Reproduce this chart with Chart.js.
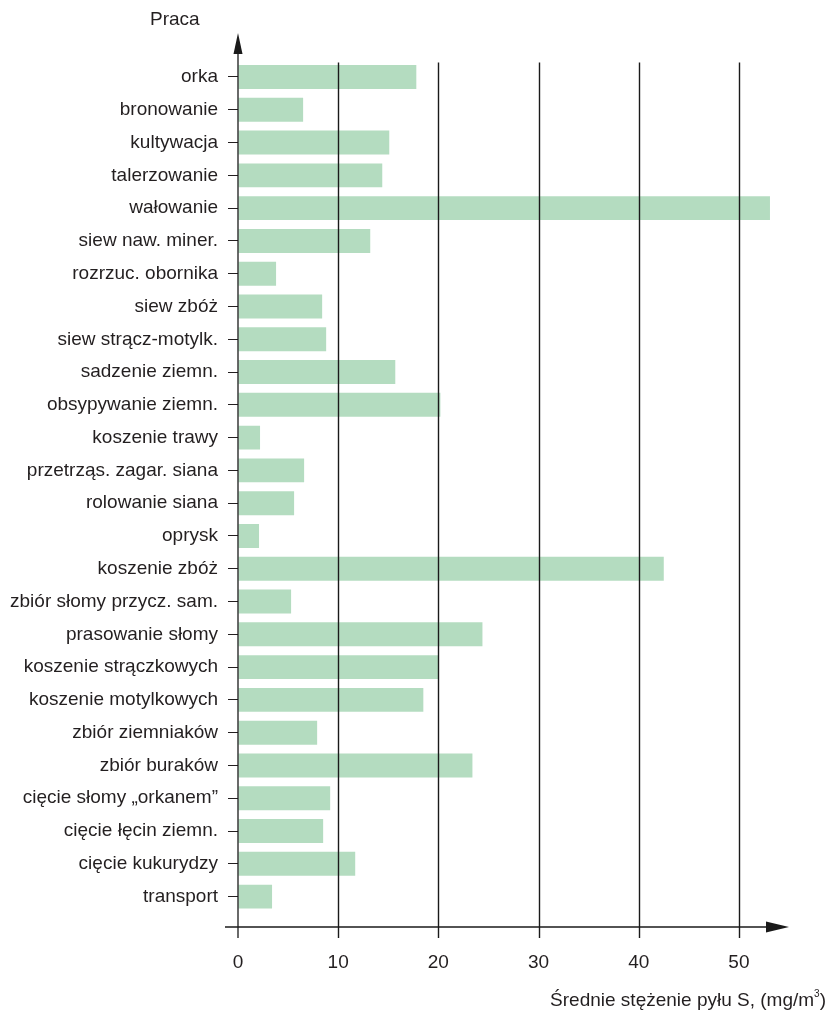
<!DOCTYPE html>
<html>
<head>
<meta charset="utf-8">
<script src="https://cdn.jsdelivr.net/npm/chart.js@4.4.0/dist/chart.umd.min.js"></script>
<style>
  body { margin: 0; background: #fff; }
  #wrap { width: 829px; height: 1013px; position: relative; }
</style>
</head>
<body>
<div id="wrap"><canvas id="chart"></canvas></div>
<script>
// kategorie (prace polowe) i średnie stężenie pyłu, mg/m3
const works = [
    'orka', 'bronowanie', 'kultywacja', 'talerzowanie', 'wałowanie',
    'siew naw. miner.', 'rozrzuc. obornika', 'siew zbóż', 'siew strącz-motylk.',
    'sadzenie ziemn.', 'obsypywanie ziemn.', 'koszenie trawy',
    'przetrząs. zagar. siana', 'rolowanie siana', 'oprysk', 'koszenie zbóż',
    'zbiór słomy przycz. sam.', 'prasowanie słomy', 'koszenie strączkowych',
    'koszenie motylkowych', 'zbiór ziemniaków', 'zbiór buraków',
    'cięcie słomy „orkanem”', 'cięcie łęcin ziemn.', 'cięcie kukurydzy', 'transport'
];
const dust = [
    17.8, 6.5, 15.1, 14.4, 53.1,
    13.2, 3.8, 8.4, 8.8,
    15.7, 20.2, 2.2,
    6.6, 5.6, 2.1, 42.5,
    5.3, 24.4, 20.0,
    18.5, 7.9, 23.4,
    9.2, 8.5, 11.7, 3.4
];
const xTicks = [0, 10, 20, 30, 40, 50];
const yTitle = 'Praca';
const xTitle = 'Średnie stężenie pyłu S, (mg/m';

const ink = '#231f20';
const barColor = '#b4dcc0';
const font = '"Liberation Sans", Arial, sans-serif';

// osie ze strzałkami, linie siatki na słupkach i opisy
const axesPlugin = {
    id: 'axes',
    afterDatasetsDraw(chart) {
        const ctx = chart.ctx;
        const area = chart.chartArea;
        const x = chart.scales.x;
        const x0 = x.getPixelForValue(0);
        const axisY = area.bottom + 14;

        ctx.save();
        ctx.strokeStyle = '#1a1a1a';
        ctx.fillStyle = '#1a1a1a';

        // pionowe linie siatki razem z kreskami podziałki
        ctx.lineWidth = 1.4;
        xTicks.slice(1).forEach(v => {
            const px = Math.round(x.getPixelForValue(v)) + 0.5;
            ctx.beginPath();
            ctx.moveTo(px, area.top + 2);
            ctx.lineTo(px, area.bottom + 25);
            ctx.stroke();
        });

        // oś Y
        ctx.lineWidth = 1.3;
        ctx.beginPath();
        ctx.moveTo(x0, 50);
        ctx.lineTo(x0, area.bottom + 25);
        ctx.stroke();
        ctx.beginPath();
        ctx.moveTo(x0, 33);
        ctx.lineTo(x0 - 4.5, 54);
        ctx.lineTo(x0 + 4.5, 54);
        ctx.closePath();
        ctx.fill();

        // oś X
        ctx.beginPath();
        ctx.moveTo(x0 - 13, axisY);
        ctx.lineTo(area.right - 20, axisY);
        ctx.stroke();
        ctx.beginPath();
        ctx.moveTo(area.right, axisY);
        ctx.lineTo(area.right - 23, axisY - 5.5);
        ctx.lineTo(area.right - 23, axisY + 5.5);
        ctx.closePath();
        ctx.fill();

        // tytuły osi
        ctx.fillStyle = ink;
        ctx.textBaseline = 'middle';
        ctx.textAlign = 'left';
        ctx.font = '19px ' + font;
        ctx.fillText(yTitle, 150, 20);

        const right = 826;
        const wClose = ctx.measureText(')').width;
        ctx.textAlign = 'right';
        ctx.fillText(')', right, 1001);
        ctx.font = '10px ' + font;
        const w3 = ctx.measureText('3').width;
        ctx.fillText('3', right - wClose, 994);
        ctx.font = '19px ' + font;
        ctx.fillText(xTitle, right - wClose - w3, 1001);
        ctx.restore();
    }
};

new Chart(document.getElementById('chart'), {
    type: 'bar',
    data: {
        labels: works,
        datasets: [{
            data: dust,
            backgroundColor: barColor,
            borderWidth: 0,
            categoryPercentage: 1,
            barPercentage: 0.73
        }]
    },
    options: {
        indexAxis: 'y',
        responsive: true,
        maintainAspectRatio: false,
        animation: false,
        layout: { padding: { top: 60.6, right: 40, bottom: 0, left: 0 } },
        plugins: {
            legend: { display: false },
            tooltip: { enabled: false }
        },
        scales: {
            x: {
                min: 0,
                max: 55,
                afterFit: s => { s.height = 100; },
                afterBuildTicks: s => { s.ticks = xTicks.map(v => ({ value: v })); },
                border: { display: false },
                grid: {
                    drawOnChartArea: false,
                    tickLength: 25,
                    color: 'rgba(0,0,0,0)'
                },
                ticks: {
                    padding: 13,
                    color: ink,
                    font: { family: font, size: 19 }
                }
            },
            y: {
                afterFit: s => { s.width = 238; },
                border: { display: false },
                grid: {
                    offset: false,
                    drawOnChartArea: false,
                    tickLength: 10,
                    color: ink,
                    lineWidth: 1
                },
                ticks: {
                    padding: 10,
                    color: ink,
                    font: { family: font, size: 19 }
                }
            }
        }
    },
    plugins: [axesPlugin]
});
</script>
</body>
</html>
